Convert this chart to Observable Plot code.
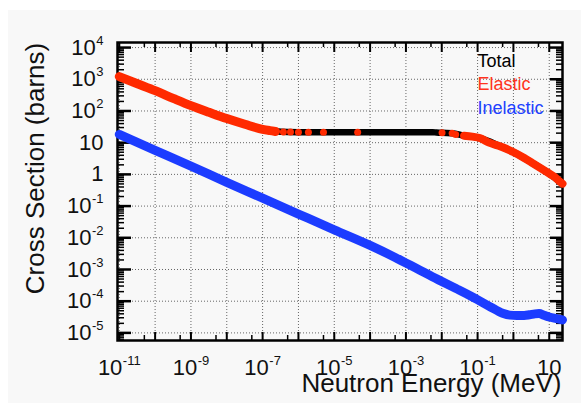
<!DOCTYPE html>
<html><head><meta charset="utf-8">
<script src="https://cdn.jsdelivr.net/npm/d3@7"></script>
<script src="https://cdn.jsdelivr.net/npm/@observablehq/plot@0.6"></script>
<style>
html,body{margin:0;padding:0;background:#fff;}
#bg{position:absolute;left:8px;top:10px;width:573px;height:393px;background:#f8f8f8;}
#chart{position:absolute;left:0;top:0;}
</style></head><body>
<div id="bg"></div><div id="chart"></div>
<script>
// ---- data ----
// Elastic: dense low-energy part (line)
const elasticLowE = [1e-11, 3.2e-11, 1e-10, 3.2e-10, 1e-9, 3.2e-9, 1e-8, 3.2e-8, 1e-7, 1.6e-7, 2.3e-7];
const elasticLowS = [1216, 724, 437, 251, 148, 91, 57.5, 38, 26.3, 24.0, 22.6];
// Elastic: sparse points (dots only)
const elasticDotE = [3.8e-7, 6.0e-7, 1.0e-6, 1.9e-6, 5.0e-6, 4.5e-5, 1.02e-2, 1.95e-2, 2.45e-2];
const elasticDotS = [21.8, 21.6, 21.5, 21.4, 21.4, 21.4, 20.4, 20.0, 18.2];
// Elastic: high-energy part (line)
const elasticHighE = [4.2e-2, 7.1e-2, 0.12, 0.21, 0.44, 1.02, 2.0, 3.7, 8.7, 14.1, 20.9, 23.4];
const elasticHighS = [16.6, 15.5, 13.8, 10.0, 7.6, 5.0, 3.3, 2.14, 1.17, 0.83, 0.56, 0.51];
// Total
const totalE = [1e-11, 1e-10, 1e-9, 1e-8, 1e-7, 2.3e-7, 5e-7, 1e-6, 1e-5, 1e-4, 1e-3, 5.6e-3, 7.1e-3, 1.02e-2, 1.95e-2, 4.2e-2, 0.12, 0.44, 1.02, 3.7, 8.7, 23.4];
const totalS = [1234, 443, 150, 58, 26.5, 22.8, 21.7, 21.5, 21.4, 21.4, 21.4, 21.4, 20.9, 20.4, 20.0, 16.6, 13.8, 7.6, 5.0, 2.14, 1.17, 0.51];
// Inelastic
const inelE = [1e-11, 1e-10, 1e-9, 1e-8, 1e-7, 1e-6, 1e-5, 1e-4, 5.0e-4, 2.0e-3, 7.9e-3, 0.025, 0.079, 0.229, 0.5, 0.794, 1.26, 2.0, 2.8, 4.0, 5.2, 7.1, 10, 15.8, 23.4];
const inelS = [18.2, 5.75, 1.82, 0.562, 0.178, 0.0562, 0.0178, 5.75e-3, 2.40e-3, 1.07e-3, 4.79e-4, 2.51e-4, 1.29e-4, 6.6e-5, 4.17e-5, 3.63e-5, 3.55e-5, 3.55e-5, 3.72e-5, 3.98e-5, 4.07e-5, 3.63e-5, 3.16e-5, 2.82e-5, 2.57e-5];

// ticks and labels
const yMajor = [1e-5, 1e-4, 1e-3, 1e-2, 1e-1, 1, 10, 100, 1e3, 1e4];
const yLabels = ["10^-5", "10^-4", "10^-3", "10^-2", "10^-1", "1", "10", "10^2", "10^3", "10^4"];
const xMajor = [1e-11, 1e-10, 1e-9, 1e-8, 1e-7, 1e-6, 1e-5, 1e-4, 1e-3, 1e-2, 1e-1, 1, 10];
const xLabelVals = [1e-11, 1e-9, 1e-7, 1e-5, 1e-3, 1e-1, 10];
const xLabels = ["10^-11", "10^-9", "10^-7", "10^-5", "10^-3", "10^-1", "10"];
const legendLabels = ["Total", "Elastic", "Inelastic"];
const seriesColors = ["#000000", "#ff2a00", "#1c3cff"];
const legendColors = ["#000000", "#ff3320", "#2040ff"];

const xDomain = [Math.pow(10, -11.05), Math.pow(10, 1.37)];
const yDomain = [Math.pow(10, -5.24), Math.pow(10, 4.16)];

const W = 581, H = 403, mL = 117, mR = 19, mT = 42, mB = 63;
const fw = W - mL - mR, fh = H - mT - mB;

const yMinor = [];
for (let p = -6; p <= 4; p++) for (let k = 2; k <= 9; k++) {
  const v = k * Math.pow(10, p);
  if (v > yDomain[0] && v < yDomain[1]) yMinor.push(v);
}
const xMinor = [];
for (let p = -12; p <= 1; p++) {
  const v = 5 * Math.pow(10, p);
  if (v > xDomain[0] && v < xDomain[1]) xMinor.push(v);
}

const zip = (E, S) => E.map((e, i) => ({e, s: S[i]}));
const elasticLow = zip(elasticLowE, elasticLowS);
const elasticDots = zip(elasticDotE, elasticDotS);
const elasticHigh = zip(elasticHighE, elasticHighS);
const total = zip(totalE, totalS);
const inel = zip(inelE, inelS);

const FONT = "Liberation Sans, Arial, Helvetica, sans-serif";
const txt = "#111";

const marks = [
  // grid
  Plot.ruleX(xMajor, {stroke: "#666", strokeWidth: 1, strokeDasharray: "1,2"}),
  Plot.ruleY(yMajor, {stroke: "#666", strokeWidth: 1, strokeDasharray: "1,2"}),
  // ticks left
  Plot.ruleY(yMajor, {stroke: "#000", strokeWidth: 2.5, insetRight: fw - 14}),
  Plot.ruleY(yMinor, {stroke: "#000", strokeWidth: 1.5, insetRight: fw - 7}),
  // ticks right
  Plot.ruleY(yMajor, {stroke: "#000", strokeWidth: 2.5, insetLeft: fw - 12}),
  Plot.ruleY(yMinor, {stroke: "#000", strokeWidth: 1.5, insetLeft: fw - 6}),
  // ticks bottom
  Plot.ruleX(xMajor, {stroke: "#000", strokeWidth: 2, insetTop: fh - 8}),
  Plot.ruleX(xMinor, {stroke: "#000", strokeWidth: 1.5, insetTop: fh - 5}),
  // ticks top
  Plot.ruleX(xMajor, {stroke: "#000", strokeWidth: 2, insetBottom: fh - 10}),
  Plot.ruleX(xMinor, {stroke: "#000", strokeWidth: 1.5, insetBottom: fh - 5}),
  Plot.frame({stroke: "#000", strokeWidth: 2.5}),
  // data
  Plot.line(total, {x: "e", y: "s", stroke: seriesColors[0], strokeWidth: 6.5, strokeLinecap: "round", strokeLinejoin: "round", curve: "monotone-x"}),
  Plot.line(elasticLow, {x: "e", y: "s", stroke: seriesColors[1], strokeWidth: 9, strokeLinecap: "round", strokeLinejoin: "round", curve: "monotone-x"}),
  Plot.dot(elasticDots, {x: "e", y: "s", r: 3.5, fill: seriesColors[1], stroke: "none"}),
  Plot.line(elasticHigh, {x: "e", y: "s", stroke: seriesColors[1], strokeWidth: 8, strokeLinecap: "round", strokeLinejoin: "round", curve: "monotone-x"}),
  Plot.line(inel, {x: "e", y: "s", stroke: seriesColors[2], strokeWidth: 9, strokeLinecap: "round", strokeLinejoin: "round", curve: "monotone-x"}),
  // tick labels
  Plot.text(yMajor, {y: d => d, text: (d, i) => yLabels[i], frameAnchor: "left", dx: -14, textAnchor: "end", lineAnchor: "middle", fontSize: 22, fill: txt}),
  Plot.text(xLabelVals, {x: d => d, text: (d, i) => xLabels[i], frameAnchor: "bottom", dy: 34, textAnchor: "middle", lineAnchor: "bottom", fontSize: 22, fill: txt}),
  // axis titles
  Plot.text(["Cross Section (barns)"], {frameAnchor: "left", rotate: -90, dx: -74, dy: -23, textAnchor: "middle", lineAnchor: "bottom", fontSize: 26, fill: txt}),
  Plot.text(["Neutron Energy (MeV)"], {frameAnchor: "bottom-right", dx: -1, dy: 51, textAnchor: "end", lineAnchor: "bottom", fontSize: 26, fill: txt}),
  // legend
  ...legendLabels.map((l, i) => Plot.text([l], {frameAnchor: "top-left", dx: 360, dy: [24, 47, 71][i], textAnchor: "start", lineAnchor: "bottom", fontSize: 18, fill: legendColors[i]}))
];

const plot = Plot.plot({
  width: W, height: H,
  marginLeft: mL, marginRight: mR, marginTop: mT, marginBottom: mB,
  x: {type: "log", domain: xDomain, axis: null},
  y: {type: "log", domain: yDomain, axis: null},
  style: {fontFamily: FONT, background: "transparent", color: txt, overflow: "visible"},
  marks
});

// exponent superscripts
plot.querySelectorAll("text").forEach(t => {
  const s = t.textContent;
  const i = s.indexOf("^");
  if (i < 0) return;
  t.textContent = s.slice(0, i);
  const ts = document.createElementNS("http://www.w3.org/2000/svg", "tspan");
  ts.setAttribute("dy", "-10");
  ts.setAttribute("dx", "0.5");
  ts.setAttribute("font-size", "13");
  ts.textContent = s.slice(i + 1);
  t.appendChild(ts);
});

document.getElementById("chart").appendChild(plot);
</script>
</body></html>
